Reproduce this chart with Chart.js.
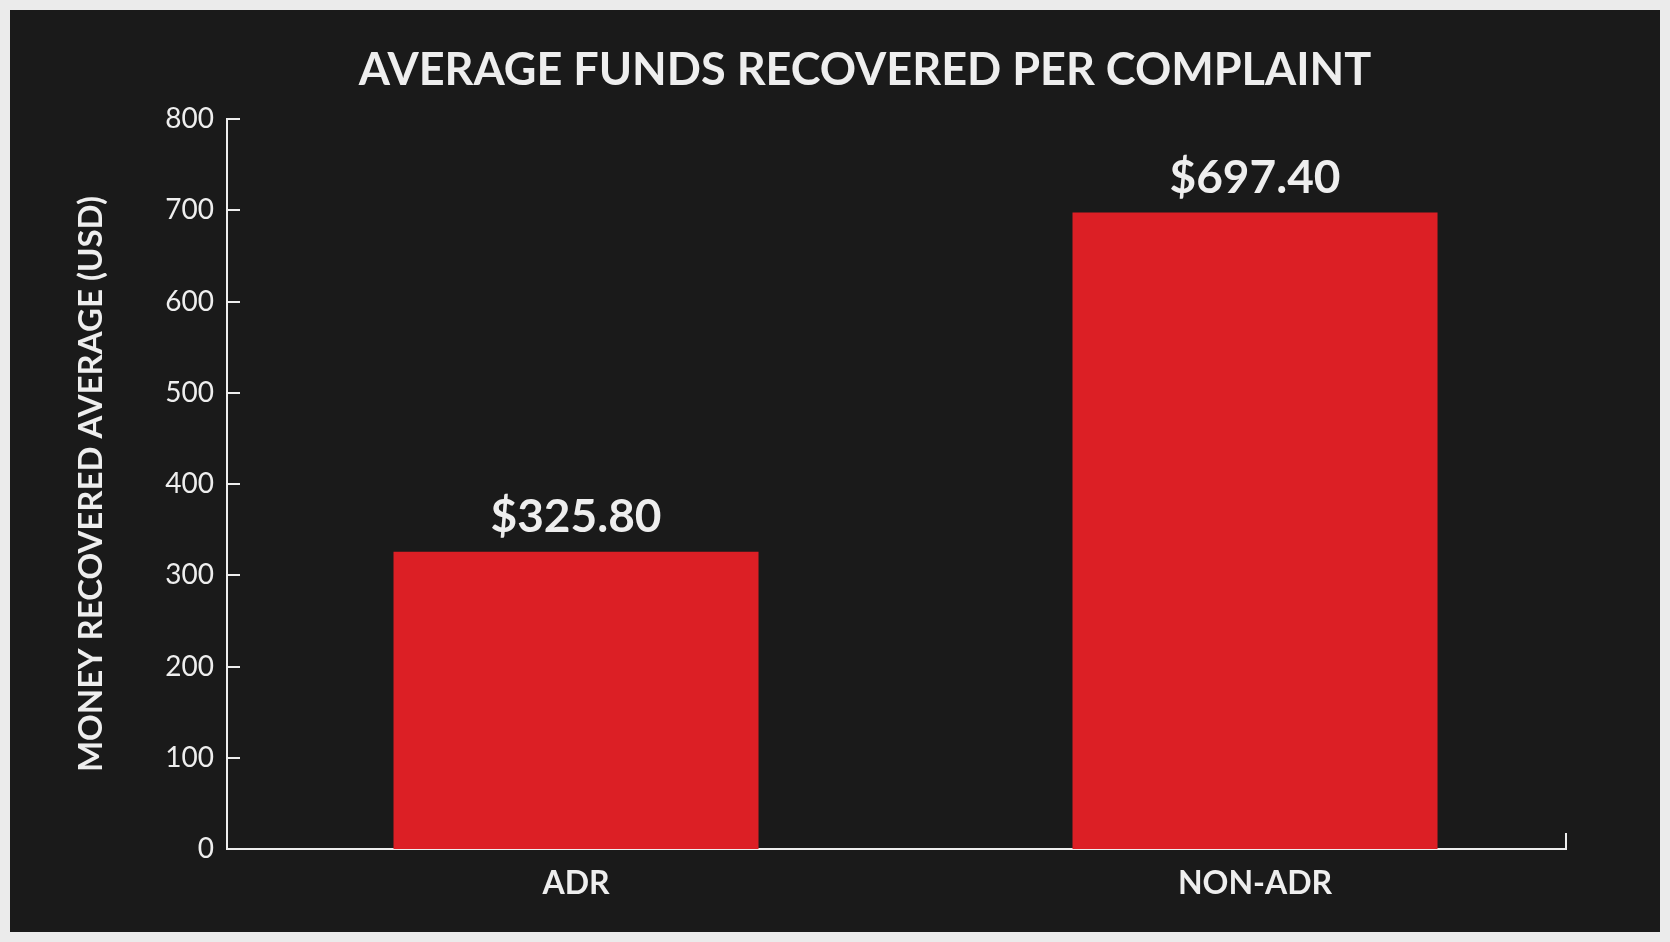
<!DOCTYPE html>
<html><head><meta charset="utf-8">
<script src="https://cdn.jsdelivr.net/npm/chart.js@4.4.1/dist/chart.umd.min.js"></script>
<style>
html,body{margin:0;padding:0;width:1670px;height:942px;background:#ebebeb;overflow:hidden}
#panel{position:absolute;left:10px;top:10px;width:1650px;height:922px;background:#1a1a1a}
#wrap{position:absolute;left:60px;top:10px;width:1610px;height:922px}
</style></head><body>
<div id="panel"></div>
<div id="wrap"><canvas id="c"></canvas></div>
<script>
const categories = ['ADR', 'NON-ADR'];
const values = [325.8, 697.4];
const yMin = 0, yMax = 800, yStep = 100;
const chartTitle = 'AVERAGE FUNDS RECOVERED PER COMPLAINT';
const yAxisTitle = 'MONEY RECOVERED AVERAGE (USD)';

const TEXT = '#eeeeee';
const FONT = 'Lato, "Open Sans", sans-serif';

const inwardTicks = {
  id: 'inwardTicks',
  afterDraw(chart) {
    const {ctx, scales: {x, y}} = chart;
    ctx.save();
    ctx.strokeStyle = TEXT;
    ctx.lineWidth = 2;
    y.ticks.forEach(t => {
      const py = Math.round(y.getPixelForValue(t.value));
      ctx.beginPath();
      ctx.moveTo(y.right, py);
      ctx.lineTo(y.right + 13, py);
      ctx.stroke();
    });
    ctx.beginPath();
    ctx.moveTo(x.right, x.top);
    ctx.lineTo(x.right, x.top - 16);
    ctx.stroke();
    ctx.restore();
  }
};

const valueLabels = {
  id: 'valueLabels',
  afterDatasetsDraw(chart) {
    const {ctx} = chart;
    const meta = chart.getDatasetMeta(0);
    ctx.save();
    ctx.fillStyle = TEXT;
    ctx.font = '700 46px ' + FONT;
    ctx.textAlign = 'center';
    ctx.textBaseline = 'alphabetic';
    meta.data.forEach((bar, i) => {
      ctx.fillText('$' + values[i].toFixed(2), bar.x, bar.y - 20);
    });
    ctx.restore();
  }
};

new Chart(document.getElementById('c'), {
  type: 'bar',
  data: {
    datasets: [{
      data: values.map((v, i) => ({x: i, y: v})),
      backgroundColor: '#dc1f25',
      borderWidth: 0,
      barPercentage: 0.5376,
      categoryPercentage: 1.0
    }]
  },
  options: {
    responsive: true,
    maintainAspectRatio: false,
    animation: false,
    devicePixelRatio: 1,
    layout: {padding: {left: 0, right: 0, top: 0, bottom: 0}},
    plugins: {
      legend: {display: false},
      tooltip: {enabled: false},
      title: {
        display: true,
        text: chartTitle,
        color: TEXT,
        font: {family: FONT, size: 45, weight: '700'},
        padding: {top: 33, bottom: 22}
      }
    },
    scales: {
      x: {
        type: 'linear',
        offset: false,
        min: -0.514,
        max: 1.458,
        afterBuildTicks: s => { s.ticks = categories.map((c, i) => ({value: i})); },
        afterFit: s => { s.height = 83; },
        ticks: {
          callback: v => categories[v],
          color: TEXT,
          font: {family: FONT, size: 32, weight: '700'},
          padding: 15,
          maxRotation: 0
        },
        grid: {display: false, drawTicks: false, offset: false},
        border: {display: true, color: TEXT, width: 2}
      },
      y: {
        min: yMin,
        max: yMax,
        afterFit: s => { s.width = 167; },
        ticks: {
          stepSize: yStep,
          color: TEXT,
          font: {family: FONT, size: 28, weight: '400'},
          padding: 13
        },
        grid: {display: false, drawTicks: false},
        border: {display: true, color: TEXT, width: 2},
        title: {
          display: true,
          text: yAxisTitle,
          color: TEXT,
          font: {family: FONT, size: 33, weight: '700'},
          padding: {top: 12, bottom: 0}
        }
      },
      spacer: {
        type: 'linear',
        position: 'right',
        display: true,
        afterFit: s => { s.width = 104; },
        ticks: {display: false},
        grid: {display: false, drawTicks: false},
        border: {display: false}
      }
    }
  },
  plugins: [inwardTicks, valueLabels]
});
</script>
</body></html>
